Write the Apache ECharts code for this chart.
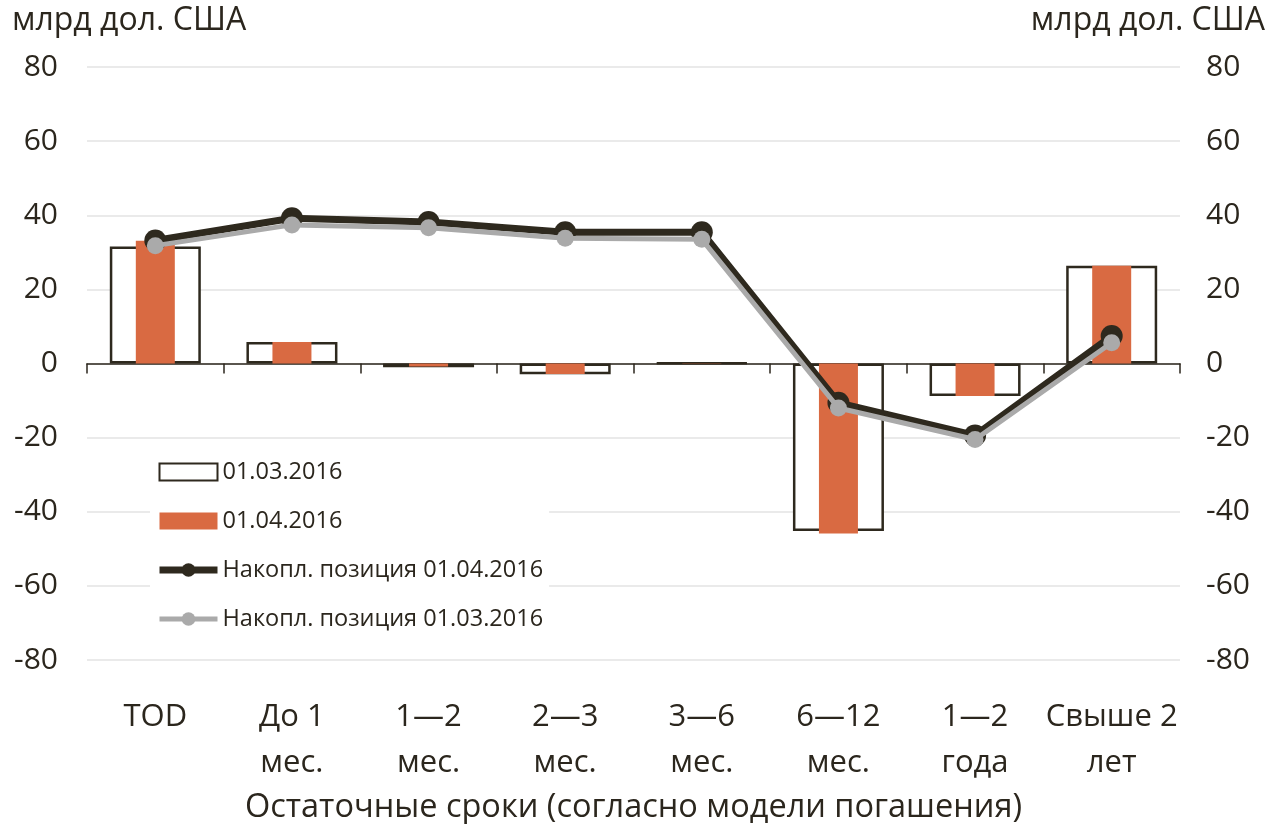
<!DOCTYPE html>
<html>
<head>
<meta charset="utf-8">
<script src="https://cdn.jsdelivr.net/npm/echarts@6/dist/echarts.min.js"></script>
<style>
  html, body { margin: 0; padding: 0; background: #fff; }
  #chart { width: 1268px; height: 824px; }
</style>
</head>
<body>
<div id="chart"></div>
<script>
// categories and values (млрд дол. США)
var categories = ['TOD', 'До 1\nмес.', '1—2\nмес.', '2—3\nмес.', '3—6\nмес.', '6—12\nмес.', '1—2\nгода', 'Свыше 2\nлет'];
var gap0301 = [31.6, 5.8, -1.0, -2.9, 0.2, -45.2, -8.8, 26.4];
var gap0401 = [33.1, 5.8, -0.8, -2.8, 0.1, -45.9, -8.8, 26.4];
var cum0401 = [33.2, 39.2, 38.2, 35.4, 35.4, -10.6, -19.4, 7.4];
var cum0301 = [31.8, 37.4, 36.6, 33.8, 33.5, -12.0, -20.5, 5.6];
var yTicks = { min: -80, max: 80, interval: 20 };

var textColor = '#2b261d';
var font = 'Open Sans';

var dom = document.getElementById('chart');
var myChart = echarts.init(dom);

var option = {
    animation: false,
    textStyle: { fontFamily: font, color: textColor },
    grid: { left: 87, right: 88, top: 67, bottom: 164, containLabel: false, outerBoundsMode: 'none' },
    legend: {
        orient: 'vertical',
        left: 150,
        top: 452,
        backgroundColor: '#fff',
        padding: [8, 6, 8, 6],
        itemWidth: 58,
        itemHeight: 17,
        itemGap: 25,
        textStyle: { fontSize: 23.5, color: textColor, fontFamily: font },
        data: [
            { name: '01.03.2016', icon: 'rect' },
            { name: '01.04.2016', icon: 'rect' },
            { name: 'Накопл. позиция 01.04.2016', lineStyle: { width: 7 } },
            { name: 'Накопл. позиция 01.03.2016', lineStyle: { width: 5 } }
        ]
    },
    graphic: [
        { type: 'text', left: 12, top: 5, style: { text: 'млрд дол. США', font: '32px "' + font + '"', fill: textColor } },
        { type: 'text', right: 3, top: 5, style: { text: 'млрд дол. США', font: '32px "' + font + '"', fill: textColor } }
    ],
    xAxis: [
        {
            type: 'category',
            data: categories,
            position: 'bottom',
            axisLine: { show: false, onZero: false },
            axisTick: { show: false },
            axisLabel: { fontSize: 31, color: textColor, margin: 34, lineHeight: 46, interval: 0 },
            name: 'Остаточные сроки (согласно модели погашения)',
            nameLocation: 'middle',
            nameGap: 128,
            nameTextStyle: { fontSize: 32.5, color: textColor }
        },
        {
            type: 'category',
            data: categories,
            position: 'top',
            axisLine: { show: true, onZero: true, lineStyle: { color: '#2b261d', width: 1.5 } },
            axisTick: { show: true, inside: true, length: 10, lineStyle: { color: '#2b261d', width: 1.5 } },
            axisLabel: { show: false }
        }
    ],
    yAxis: [
        {
            type: 'value',
            min: yTicks.min, max: yTicks.max, interval: yTicks.interval,
            axisLine: { show: false },
            axisTick: { show: false },
            splitLine: { lineStyle: { color: '#e3e3e3', width: 1.5 } },
            axisLabel: { fontSize: 30, color: textColor, margin: 29 }
        },
        {
            type: 'value',
            position: 'right',
            min: yTicks.min, max: yTicks.max, interval: yTicks.interval,
            axisLine: { show: false },
            axisTick: { show: false },
            splitLine: { show: false },
            axisLabel: { fontSize: 30, color: textColor, margin: 26 }
        }
    ],
    series: [
        {
            name: '01.03.2016',
            type: 'bar',
            xAxisIndex: 1,
            barWidth: 91,
            data: gap0301,
            itemStyle: { color: '#fff', borderColor: '#2e291e', borderWidth: 2.5 },
            z: 2
        },
        {
            name: '01.04.2016',
            type: 'bar',
            xAxisIndex: 0,
            barWidth: 39,
            data: gap0401,
            itemStyle: { color: '#d96a42' },
            z: 3
        },
        {
            name: 'Накопл. позиция 01.04.2016',
            type: 'line',
            data: cum0401,
            symbol: 'circle',
            symbolSize: 22,
            lineStyle: { color: '#2e291e', width: 7 },
            itemStyle: { color: '#2e291e' },
            z: 4
        },
        {
            name: 'Накопл. позиция 01.03.2016',
            type: 'line',
            data: cum0301,
            symbol: 'circle',
            symbolSize: 17,
            lineStyle: { color: '#aaaaaa', width: 5 },
            itemStyle: { color: '#aaaaaa' },
            z: 5
        }
    ]
};

if (option && typeof option === "object") {
    myChart.setOption(option, true);
}
window.onresize = function(){
    myChart.resize();
};
</script>
</body>
</html>
